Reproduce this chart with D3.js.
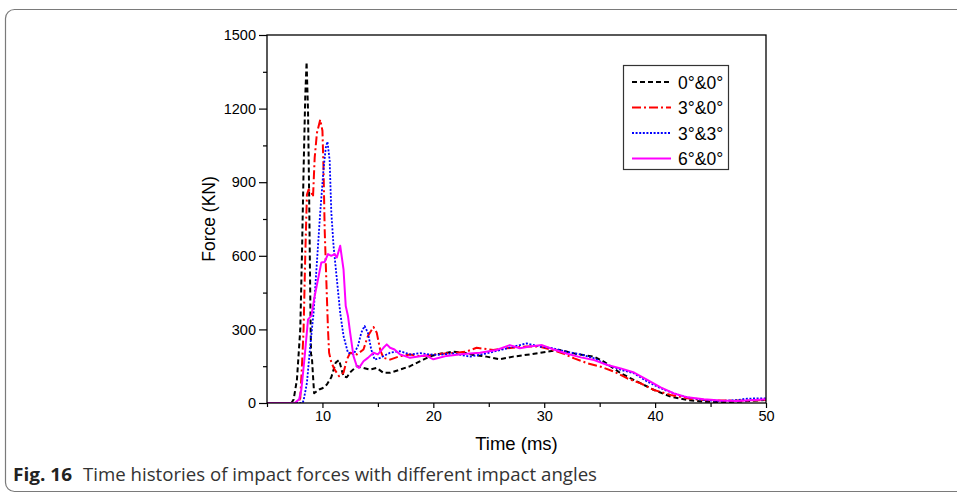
<!DOCTYPE html>
<html>
<head>
<meta charset="utf-8">
<script src="https://cdn.jsdelivr.net/npm/d3@7"></script>
<style>
  body { margin: 0; background: #fff; }
  svg { display: block; }
</style>
</head>
<body>
<script>
// Data: [time (ms), force (KN)]
const seriesNames = ['0°&0°', '3°&0°', '3°&3°', '6°&0°'];
const xTicks = [10, 20, 30, 40, 50];
const xMinorTicks = [5, 15, 25, 35, 45];
const yTicks = [0, 300, 600, 900, 1200, 1500];
const yMinorTicks = [150, 450, 750, 1050, 1350];

const force00 = [[5,0],[7.2,0],[7.4,14],[7.7,95],[8.0,300],[8.15,600],[8.3,950],[8.45,1250],[8.57,1390],
  [8.7,1190],[8.8,850],[8.9,440],[8.97,200],[9.05,185],[9.15,110],[9.25,40],[9.4,45],[9.7,55],[10.0,60],
  [10.4,75],[10.8,105],[11.2,165],[11.5,175],[11.9,108],[12.2,105],[12.5,125],[13.1,150],[13.7,143],
  [14.3,136],[14.9,143],[15.5,123],[16.1,123],[17.0,136],[17.9,150],[19.1,177],[19.7,190],[20.5,200],
  [21.8,209],[22.8,205],[23.6,196],[24.8,189],[26.0,178],[27.2,189],[28.7,198],[30.2,209],[31.4,216],
  [32.9,200],[34.5,189],[35.4,168],[36.9,121],[38.4,87],[39.9,53],[41.4,26],[42.9,12],[44.4,5],
  [45.9,4],[47.4,5],[50,12]];

const force30 = [[5,0],[7.8,0],[8.0,20],[8.15,150],[8.3,300],[8.45,600],[8.6,850],[8.75,870],[9.0,860],
  [9.15,840],[9.3,1000],[9.5,1100],[9.8,1155],[10.0,1110],[10.1,950],[10.2,710],[10.35,500],[10.5,300],
  [10.6,205],[10.8,165],[11.1,136],[11.5,109],[11.9,123],[12.2,177],[12.5,205],[13.1,198],[13.7,218],
  [14.1,273],[14.6,310],[14.9,286],[15.2,218],[15.5,184],[16.1,177],[17.0,191],[17.9,198],[18.8,191],
  [19.7,195],[20.5,200],[22.0,205],[23.0,210],[23.9,225],[25.4,216],[26.6,223],[28.4,230],[29.6,230],
  [30.8,216],[31.7,202],[32.7,182],[33.9,162],[35.1,148],[36.3,128],[37.5,100],[38.7,80],[39.9,53],
  [41.4,33],[42.9,19],[44.4,12],[45.9,10],[48.0,10],[50,12]];

const force33 = [[5,0],[8.2,0],[8.3,10],[8.6,82],[8.9,232],[9.2,368],[9.5,573],[9.8,777],[10.1,955],
  [10.3,1040],[10.45,1065],[10.65,990],[10.8,777],[11.0,641],[11.3,504],[11.6,368],[11.9,273],[12.3,205],
  [12.8,198],[13.2,232],[13.5,286],[13.8,314],[14.1,286],[14.4,218],[14.7,177],[15.2,184],[16.1,205],
  [17.0,211],[17.9,198],[18.8,203],[19.7,198],[20.3,196],[21.8,202],[23.3,189],[24.8,202],[26.3,219],
  [27.8,236],[28.4,243],[29.6,230],[30.8,223],[32.0,209],[33.3,198],[34.5,182],[35.7,155],[36.9,135],
  [38.1,121],[39.3,87],[40.5,60],[41.7,39],[42.9,23],[44.4,12],[45.9,8],[47.4,12],[48.3,18],[50,19]];

const force60 = [[5,0],[7.5,0],[7.9,15],[8.1,55],[8.4,191],[8.7,341],[9.0,355],[9.3,436],[9.6,504],
  [9.9,573],[10.2,575],[10.5,607],[10.8,600],[11.1,607],[11.3,593],[11.6,641],[11.9,545],[12.1,395],
  [12.3,355],[12.5,286],[12.8,191],[13.1,150],[13.3,143],[13.7,170],[14.1,184],[14.6,205],[15.0,198],
  [15.5,225],[15.8,239],[16.1,225],[16.5,218],[17.0,198],[17.9,184],[18.8,191],[19.3,195],[20.0,178],
  [21.2,192],[22.7,200],[24.2,205],[25.7,216],[26.9,236],[27.8,223],[28.7,230],[29.8,236],[30.8,219],
  [32.0,202],[33.3,186],[34.5,175],[35.7,155],[36.9,141],[38.1,124],[39.3,94],[40.5,64],[41.7,39],
  [42.9,23],[44.4,15],[45.9,10],[47.4,8],[48.9,12],[50,15]];

const seriesData = [force00, force30, force33, force60];
const colors = ['#000000', '#ff0000', '#0000ff', '#ff00ff'];
const dashes = ['5,3', '9,3,2,3', '2,1.6', null];
const widths = [2, 2, 1.8, 2];

const W = 957, H = 493;
const plotL = 267, plotR = 766, plotT = 35, plotB = 403;
const axisFont = '"Liberation Sans", Arial, sans-serif';

const svg = d3.select('body').append('svg')
  .attr('width', W)
  .attr('height', H);

svg.append('rect').attr('width', W).attr('height', H).attr('fill', '#fff');

// rounded frame around the figure
svg.append('rect')
  .attr('x', 5.5).attr('y', 9.5)
  .attr('width', 1000).attr('height', 482)
  .attr('rx', 9)
  .attr('fill', 'none')
  .attr('stroke', '#7a7a7a')
  .attr('stroke-width', 1.2);

const x = d3.scaleLinear().domain([5, 50]).range([plotL, plotR]);
const y = d3.scaleLinear().domain([0, 1500]).range([plotB, plotT]);

svg.append('defs').append('clipPath').attr('id', 'plot')
  .append('rect')
  .attr('x', plotL).attr('y', plotT - 2)
  .attr('width', plotR - plotL).attr('height', plotB - plotT + 2);

// lines
const line = d3.line().x(d => x(d[0])).y(d => y(d[1]));
const g = svg.append('g').attr('clip-path', 'url(#plot)');
seriesData.forEach((data, i) => {
  g.append('path')
    .datum(data)
    .attr('fill', 'none')
    .attr('stroke', colors[i])
    .attr('stroke-width', widths[i])
    .attr('stroke-dasharray', dashes[i])
    .attr('stroke-linejoin', 'round')
    .attr('d', line);
});

// frame of the plot
svg.append('rect')
  .attr('x', plotL).attr('y', plotT)
  .attr('width', plotR - plotL).attr('height', plotB - plotT)
  .attr('fill', 'none')
  .attr('stroke', '#000')
  .attr('stroke-width', 1.3);

function styleAxis(sel) {
  sel.select('.domain').remove();
  sel.selectAll('line').attr('stroke', '#000').attr('stroke-width', 1.2);
  sel.selectAll('text')
    .attr('fill', '#000')
    .style('font-family', axisFont)
    .style('font-size', '14.5px');
}

svg.append('g')
  .attr('transform', `translate(0,${plotB})`)
  .call(d3.axisBottom(x).tickValues(xTicks).tickSize(5).tickPadding(3).tickFormat(d3.format('d')))
  .call(styleAxis);
svg.append('g')
  .attr('transform', `translate(0,${plotB})`)
  .call(d3.axisBottom(x).tickValues(xMinorTicks).tickSize(4).tickFormat(''))
  .call(styleAxis);

svg.append('g')
  .attr('transform', `translate(${plotL},0)`)
  .call(d3.axisLeft(y).tickValues(yTicks).tickSize(8).tickPadding(3).tickFormat(d3.format('d')))
  .call(styleAxis);
svg.append('g')
  .attr('transform', `translate(${plotL},0)`)
  .call(d3.axisLeft(y).tickValues(yMinorTicks).tickSize(4).tickFormat(''))
  .call(styleAxis);

// axis titles
svg.append('text')
  .attr('x', (plotL + plotR) / 2)
  .attr('y', 450)
  .attr('text-anchor', 'middle')
  .style('font-family', axisFont)
  .style('font-size', '18.5px')
  .text('Time (ms)');

svg.append('text')
  .attr('transform', `translate(215,${(plotT + plotB) / 2}) rotate(-90)`)
  .attr('text-anchor', 'middle')
  .style('font-family', axisFont)
  .style('font-size', '17.5px')
  .text('Force (KN)');

// legend
const lg = svg.append('g');
lg.append('rect')
  .attr('x', 623.5).attr('y', 65.5)
  .attr('width', 105).attr('height', 104)
  .attr('fill', '#fff')
  .attr('stroke', '#333')
  .attr('stroke-width', 1.2);
seriesNames.forEach((name, i) => {
  const cy = 82 + i * 25.5;
  lg.append('line')
    .attr('x1', 632).attr('x2', 671)
    .attr('y1', cy).attr('y2', cy)
    .attr('stroke', colors[i])
    .attr('stroke-width', widths[i])
    .attr('stroke-dasharray', dashes[i]);
  lg.append('text')
    .attr('x', 678)
    .attr('y', cy + 6.5)
    .style('font-family', axisFont)
    .style('font-size', '17.5px')
    .text(name);
});

// caption
svg.append('text')
  .attr('x', 13).attr('y', 481)
  .attr('textLength', 59)
  .attr('lengthAdjust', 'spacingAndGlyphs')
  .style('font-family', '"Open Sans", "Noto Sans", sans-serif')
  .style('font-weight', 'bold')
  .style('font-size', '18px')
  .attr('fill', '#222')
  .text('Fig. 16');
svg.append('text')
  .attr('x', 83).attr('y', 481)
  .attr('textLength', 514)
  .attr('lengthAdjust', 'spacingAndGlyphs')
  .style('font-family', '"Open Sans", "Noto Sans", sans-serif')
  .style('font-size', '18px')
  .attr('fill', '#333')
  .text('Time histories of impact forces with different impact angles');
</script>
</body>
</html>
